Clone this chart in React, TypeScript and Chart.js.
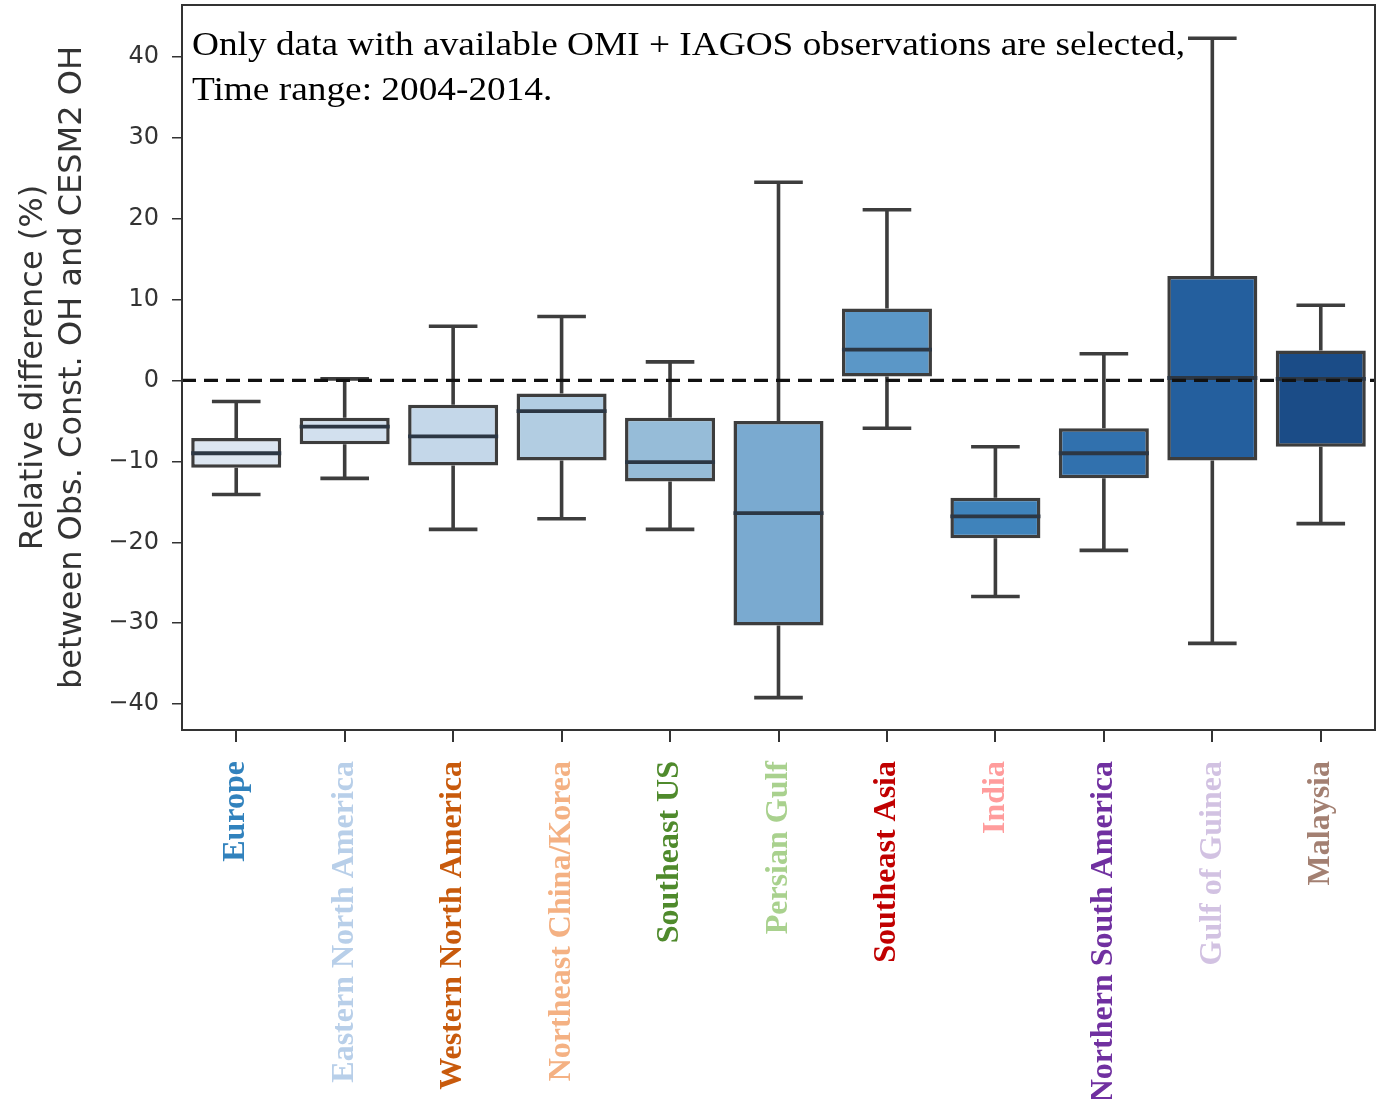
import React, { useEffect, useRef } from "react";
import { Chart, registerables } from "chart.js";

Chart.register(...registerables);

const categories = [
  "Europe",
  "Eastern North America",
  "Western North America",
  "Northeast China/Korea",
  "Southeast US",
  "Persian Gulf",
  "Southeast Asia",
  "India",
  "Northern South America",
  "Gulf of Guinea",
  "Malaysia",
];

const whiskerLow = [-14.1, -12.1, -18.4, -17.1, -18.4, -39.2, -5.9, -26.7, -21.0, -32.5, -17.7];
const q1 = [-10.8, -7.9, -10.5, -9.9, -12.5, -30.3, 0.5, -19.5, -12.1, -9.9, -8.2];
const median = [-9.0, -5.7, -6.9, -3.8, -10.1, -16.4, 3.8, -16.8, -9.0, 0.3, 0.2];
const q3 = [-7.1, -4.6, -3.0, -1.6, -4.6, -5.0, 8.9, -14.5, -5.9, 12.9, 3.7];
const whiskerHigh = [-2.6, 0.2, 6.7, 7.9, 2.3, 24.5, 21.1, -8.2, 3.3, 42.3, 9.3];

const boxColors = [
  "#dce6f1",
  "#d2e0ee",
  "#c4d7e9",
  "#b2cde2",
  "#96bcd8",
  "#7aaad0",
  "#5b97c7",
  "#3f83bb",
  "#3171ae",
  "#245f9e",
  "#1b4c87",
];

const labelColors = [
  "#3182bd",
  "#b8cfe9",
  "#c85a0c",
  "#f4b183",
  "#4f8a2c",
  "#a9d18e",
  "#c00000",
  "#ff9c9c",
  "#7030a0",
  "#d2c2e2",
  "#a38072",
];

const yTicks = [-40, -30, -20, -10, 0, 10, 20, 30, 40];
const yTitle = ["Relative difference (%)", "between Obs. Const. OH and CESM2 OH"];
const noteLines = [
  "Only data with available OMI + IAGOS observations are selected,",
  "Time range: 2004-2014.",
];

const EDGE = "#3d3d3d";

const boxPlugin = {
  id: "boxExtras",
  beforeDatasetsDraw(chart: any) {
    const ctx = chart.ctx;
    const x = chart.scales.x;
    const y = chart.scales.y;
    const meta = chart.getDatasetMeta(0);
    ctx.save();
    ctx.strokeStyle = EDGE;
    ctx.lineWidth = 3.6;
    ctx.lineCap = "butt";
    categories.forEach((_, i) => {
      const cx = x.getPixelForValue(i);
      const w = meta.data[i].width;
      const cap = w * 0.54;
      ctx.beginPath();
      ctx.moveTo(cx, y.getPixelForValue(q3[i]));
      ctx.lineTo(cx, y.getPixelForValue(whiskerHigh[i]));
      ctx.moveTo(cx, y.getPixelForValue(q1[i]));
      ctx.lineTo(cx, y.getPixelForValue(whiskerLow[i]));
      ctx.moveTo(cx - cap / 2, y.getPixelForValue(whiskerHigh[i]));
      ctx.lineTo(cx + cap / 2, y.getPixelForValue(whiskerHigh[i]));
      ctx.moveTo(cx - cap / 2, y.getPixelForValue(whiskerLow[i]));
      ctx.lineTo(cx + cap / 2, y.getPixelForValue(whiskerLow[i]));
      ctx.stroke();
    });
    ctx.restore();
  },
  afterDatasetsDraw(chart: any) {
    const ctx = chart.ctx;
    const x = chart.scales.x;
    const y = chart.scales.y;
    const meta = chart.getDatasetMeta(0);
    const area = chart.chartArea;
    ctx.save();
    ctx.strokeStyle = "#2c3744";
    ctx.lineWidth = 3.8;
    categories.forEach((_, i) => {
      const cx = x.getPixelForValue(i);
      const w = meta.data[i].width;
      const py = y.getPixelForValue(median[i]);
      ctx.beginPath();
      ctx.moveTo(cx - w / 2, py);
      ctx.lineTo(cx + w / 2, py);
      ctx.stroke();
    });
    // zero dashed line
    const zy = y.getPixelForValue(0);
    ctx.strokeStyle = "#111111";
    ctx.lineWidth = 3.2;
    ctx.setLineDash([14, 8]);
    ctx.beginPath();
    ctx.moveTo(area.left, zy);
    ctx.lineTo(area.right, zy);
    ctx.stroke();
    ctx.restore();
  },
  afterDraw(chart: any) {
    const ctx = chart.ctx;
    const area = chart.chartArea;
    ctx.save();
    ctx.strokeStyle = "#333333";
    ctx.lineWidth = 2;
    ctx.strokeRect(area.left, area.top, area.right - area.left, area.bottom - area.top);
    // annotation
    ctx.fillStyle = "#000000";
    ctx.font = '34px "Liberation Serif"';
    ctx.textBaseline = "alphabetic";
    ctx.textAlign = "left";
    const targetW = 993;
    const mw = ctx.measureText(noteLines[0]).width;
    const sx = targetW / mw;
    ctx.translate(area.left + 10, 0);
    ctx.scale(sx, 1);
    ctx.fillText(noteLines[0], 0, 55);
    ctx.fillText(noteLines[1], 0, 100);
    ctx.restore();
  },
};

export default function App() {
  const ref = useRef<HTMLCanvasElement | null>(null);
  useEffect(() => {
    if (!ref.current) return;
    const chart = new Chart(ref.current, {
      type: "bar",
      data: {
        labels: categories,
        datasets: [
          {
            data: categories.map((_, i) => [q1[i], q3[i]]) as any,
            backgroundColor: boxColors,
            borderColor: EDGE,
            borderWidth: 3.5,
            borderSkipped: false,
            barPercentage: 0.83,
            categoryPercentage: 1,
          },
        ],
      },
      options: {
        animation: false,
        responsive: false,
        maintainAspectRatio: false,
        layout: { padding: { top: 5, right: 8, left: 0, bottom: 0 } },
        plugins: {
          legend: { display: false },
          tooltip: { enabled: false },
        },
        scales: {
          x: {
            type: "category",
            offset: true,
            grid: {
              display: true,
              drawOnChartArea: false,
              drawTicks: true,
              tickLength: 12,
              color: "#333333",
              lineWidth: 2,
              offset: false,
            },
            border: { display: false },
            ticks: {
              autoSkip: false,
              minRotation: 90,
              maxRotation: 90,
              padding: 19,
              color: labelColors,
              font: { family: "Liberation Serif", size: 32, weight: "bold" },
            },
            afterFit(scale: any) {
              scale.height = 369;
              scale.paddingLeft = 0;
              scale.paddingRight = 0;
              scale.paddingTop = 0;
              scale.paddingBottom = 0;
            },
          },
          y: {
            min: -43.2,
            max: 46.4,
            grid: {
              display: true,
              drawOnChartArea: false,
              drawTicks: true,
              tickLength: 10,
              color: "#333333",
              lineWidth: 1.5,
            },
            border: { display: false },
            afterBuildTicks(scale: any) {
              scale.ticks = yTicks.map((v) => ({ value: v }));
            },
            ticks: {
              padding: 13,
              color: "#333333",
              font: { family: "DejaVu Sans", size: 24 },
              callback: (v: any) => (Number(v) < 0 ? "\u2212" + Math.abs(Number(v)) : String(v)),
            },
            title: {
              display: true,
              text: yTitle,
              color: "#333333",
              font: { family: "DejaVu Sans", size: 32, lineHeight: 1.22 },
              padding: { top: 14, bottom: 0 },
            },
            afterFit(scale: any) {
              scale.width = 182;
              scale.paddingTop = 0;
              scale.paddingBottom = 0;
              scale.paddingLeft = 0;
              scale.paddingRight = 0;
            },
          },
        },
      },
      plugins: [boxPlugin],
    });
    return () => chart.destroy();
  }, []);
  return (
    <div style={{ position: "absolute", left: 0, top: 0, width: 1383, height: 1099, background: "#fff" }}>
      <canvas ref={ref} width={1383} height={1099} />
    </div>
  );
}
